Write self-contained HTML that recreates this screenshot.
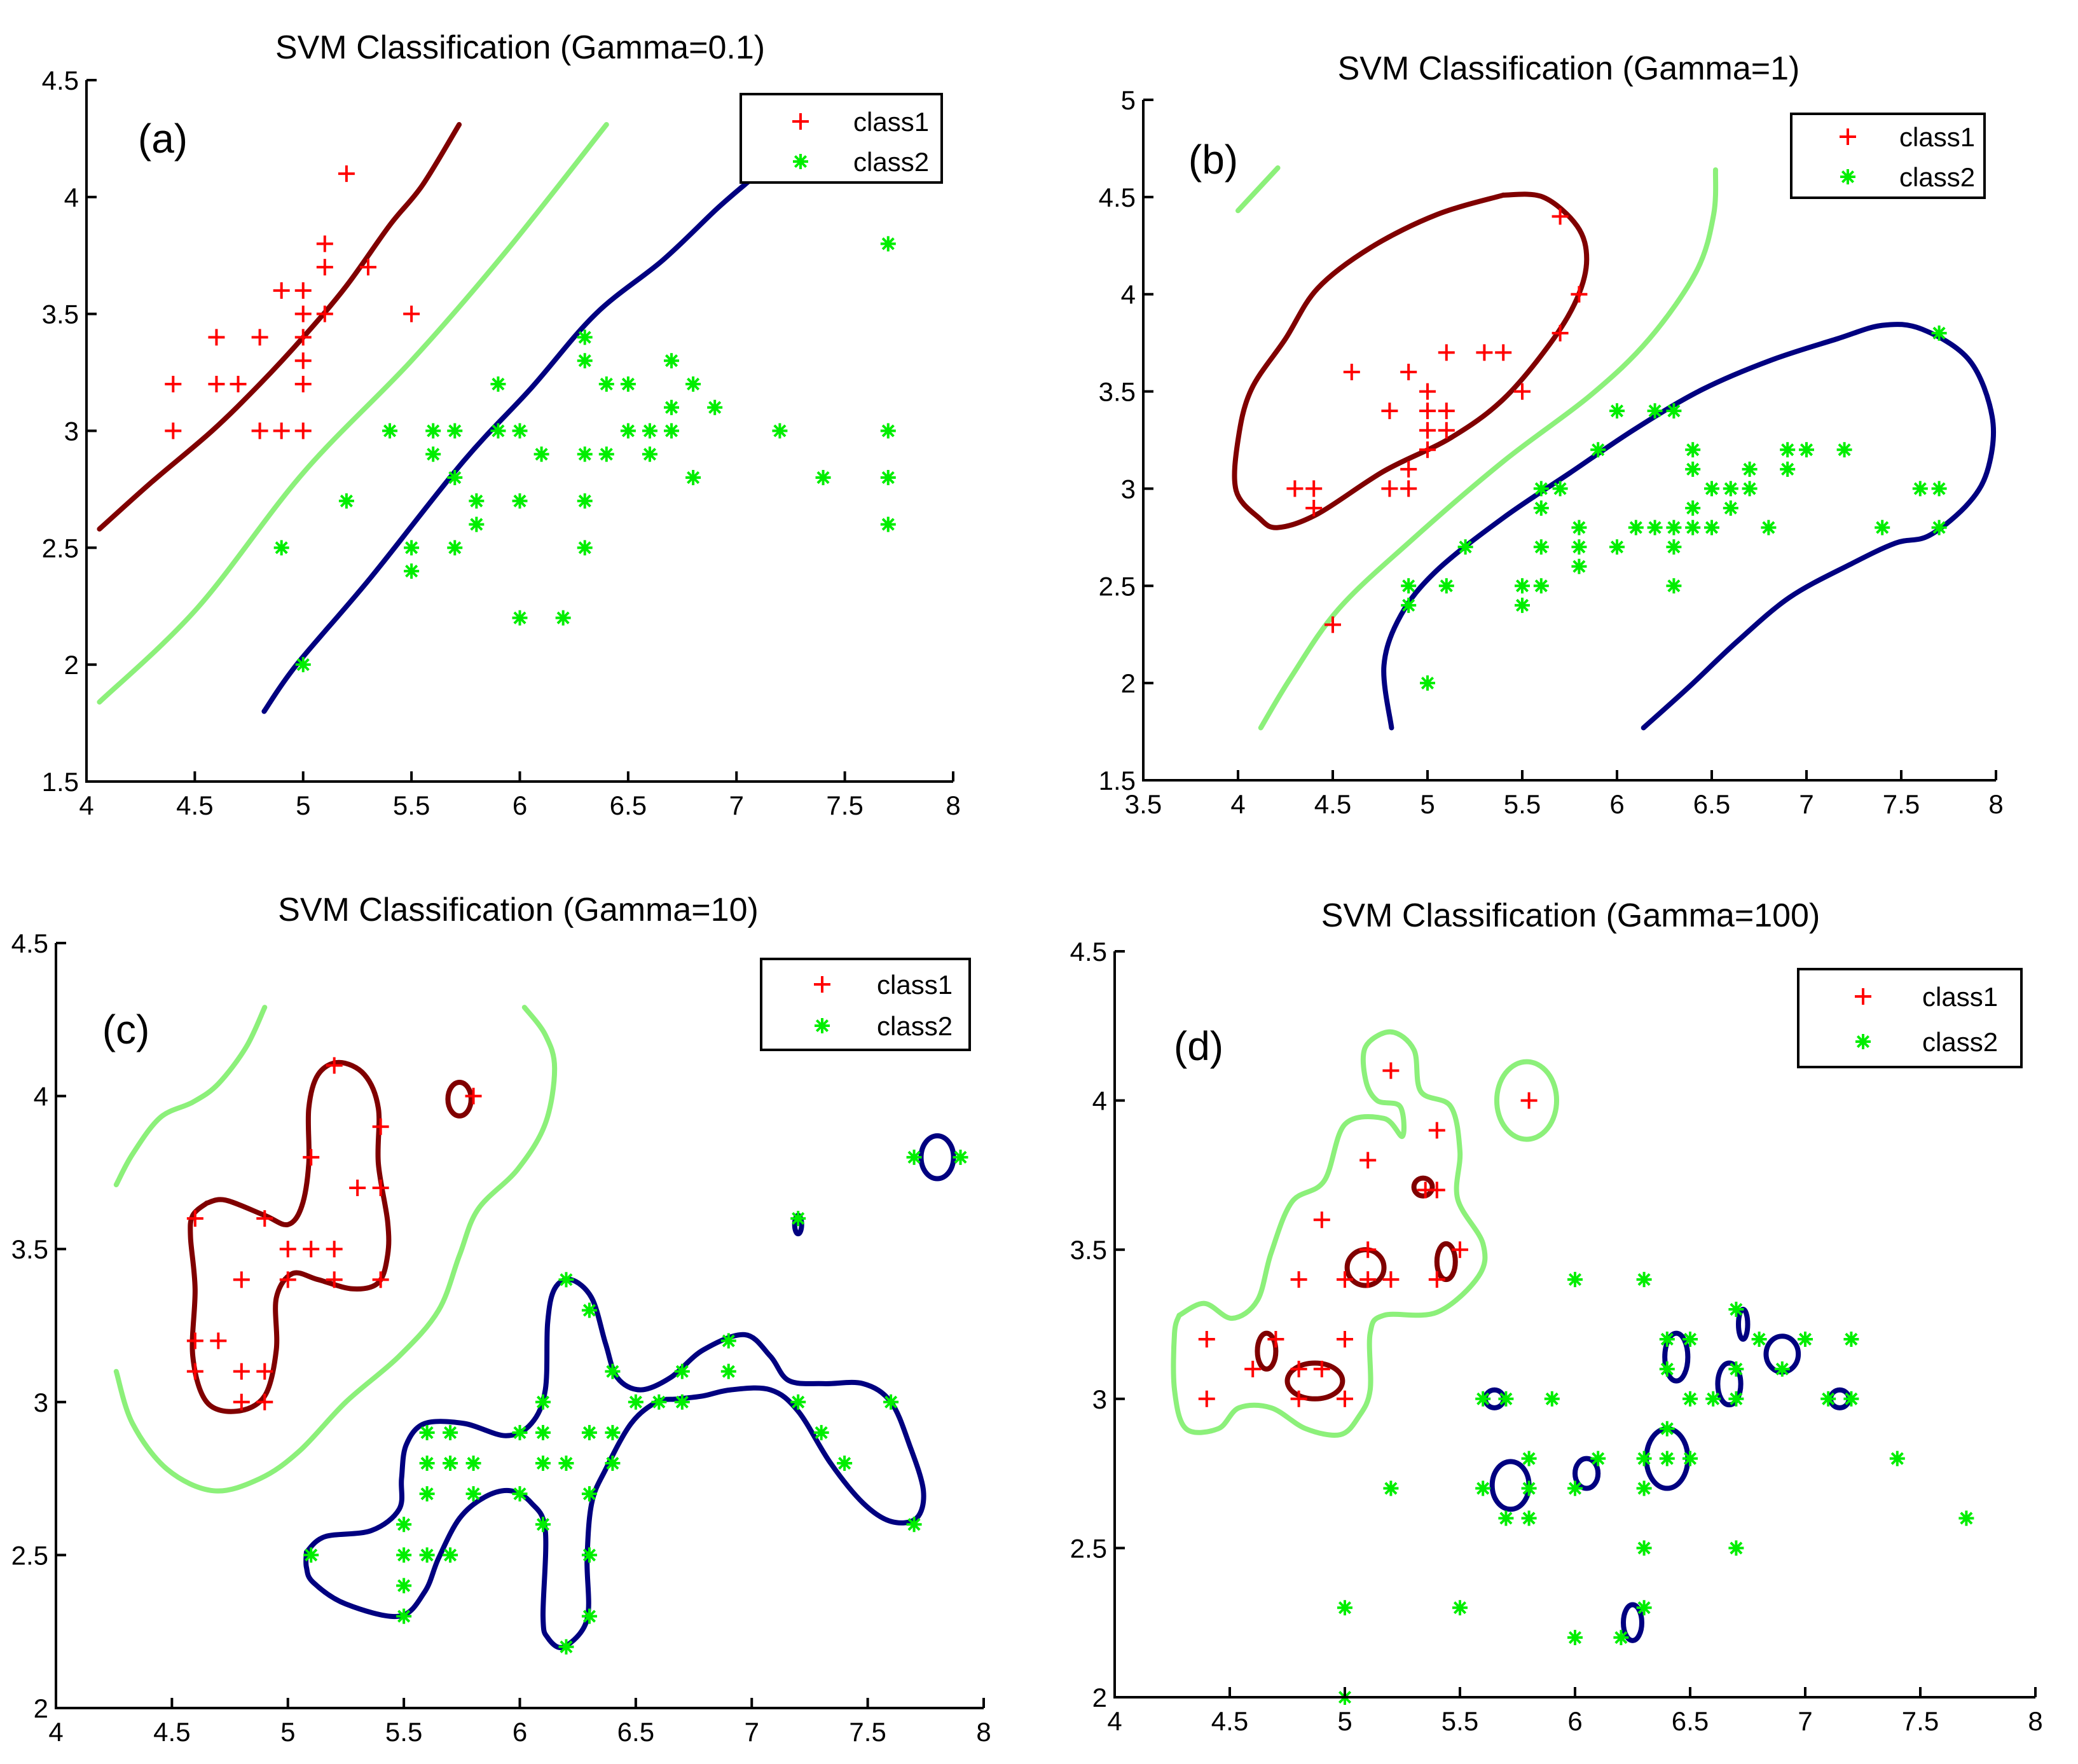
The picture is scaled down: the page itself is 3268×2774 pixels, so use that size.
<!DOCTYPE html>
<html><head><meta charset="utf-8"><style>
html,body{margin:0;padding:0;background:#fff}
svg{display:block}
text{font-family:"Liberation Sans",Arial,sans-serif}
</style></head><body>
<svg id="fig" xmlns="http://www.w3.org/2000/svg" width="3268" height="2774" viewBox="0 0 3268 2774"></svg>
<script>
// ---------- data ----------
const aClass1 = [[4.4,3.2],[4.4,3.0],[4.6,3.4],[4.6,3.2],[4.7,3.2],[4.8,3.4],[4.8,3.0],[4.9,3.6],[4.9,3.0],[5.0,3.6],[5.0,3.5],[5.0,3.4],[5.0,3.3],[5.0,3.2],[5.0,3.0],[5.1,3.8],[5.1,3.7],[5.1,3.5],[5.2,4.1],[5.3,3.7],[5.5,3.5]];
const aClass2 = [[4.9,2.5],[5.0,2.0],[5.2,2.7],[5.4,3.0],[5.5,2.5],[5.5,2.4],[5.6,3.0],[5.6,2.9],[5.7,3.0],[5.7,2.8],[5.7,2.5],[5.8,2.7],[5.8,2.6],[5.9,3.2],[5.9,3.0],[6.0,3.0],[6.0,2.7],[6.0,2.2],[6.1,2.9],[6.2,2.2],[6.3,3.4],[6.3,3.3],[6.3,2.9],[6.3,2.7],[6.3,2.5],[6.4,3.2],[6.4,2.9],[6.5,3.2],[6.5,3.0],[6.6,3.0],[6.6,2.9],[6.7,3.3],[6.7,3.1],[6.7,3.0],[6.8,3.2],[6.8,2.8],[6.9,3.1],[7.2,3.0],[7.4,2.8],[7.7,3.8],[7.7,3.0],[7.7,2.8],[7.7,2.6]];
const bClass1 = [[5.7,4.4],[5.8,4.0],[5.7,3.8],[5.1,3.7],[5.3,3.7],[5.4,3.7],[4.6,3.6],[4.9,3.6],[5.0,3.5],[5.5,3.5],[4.8,3.4],[5.0,3.4],[5.1,3.4],[5.0,3.3],[5.1,3.3],[5.0,3.2],[4.9,3.1],[4.3,3.0],[4.4,3.0],[4.8,3.0],[4.9,3.0],[4.4,2.9],[4.5,2.3]];
const bClass2 = [[7.7,3.8],[6.0,3.4],[6.2,3.4],[6.3,3.4],[5.9,3.2],[6.4,3.2],[6.9,3.2],[7.0,3.2],[7.2,3.2],[6.4,3.1],[6.7,3.1],[6.9,3.1],[5.6,3.0],[5.7,3.0],[6.5,3.0],[6.6,3.0],[6.7,3.0],[7.6,3.0],[7.7,3.0],[5.6,2.9],[6.4,2.9],[6.6,2.9],[5.8,2.8],[6.1,2.8],[6.2,2.8],[6.3,2.8],[6.4,2.8],[6.5,2.8],[6.8,2.8],[7.4,2.8],[7.7,2.8],[5.2,2.7],[5.6,2.7],[5.8,2.7],[6.0,2.7],[6.3,2.7],[5.8,2.6],[4.9,2.5],[5.1,2.5],[5.5,2.5],[5.6,2.5],[6.3,2.5],[4.9,2.4],[5.5,2.4],[5.0,2.0]];
const cClass1 = [[5.2,4.1],[5.8,4.0],[5.4,3.9],[5.1,3.8],[5.3,3.7],[5.4,3.7],[4.6,3.6],[4.9,3.6],[5.0,3.5],[5.1,3.5],[5.2,3.5],[4.8,3.4],[5.0,3.4],[5.2,3.4],[5.4,3.4],[4.6,3.2],[4.7,3.2],[4.6,3.1],[4.8,3.1],[4.9,3.1],[4.8,3.0],[4.9,3.0]];
const cClass2 = [[7.7,3.8],[7.9,3.8],[7.2,3.6],[6.2,3.4],[6.3,3.3],[6.9,3.2],[6.4,3.1],[6.7,3.1],[6.9,3.1],[6.1,3.0],[6.5,3.0],[6.6,3.0],[6.7,3.0],[7.2,3.0],[7.6,3.0],[5.6,2.9],[5.7,2.9],[6.0,2.9],[6.1,2.9],[6.3,2.9],[6.4,2.9],[7.3,2.9],[5.6,2.8],[5.7,2.8],[5.8,2.8],[6.1,2.8],[6.2,2.8],[6.4,2.8],[7.4,2.8],[5.6,2.7],[5.8,2.7],[6.0,2.7],[6.3,2.7],[5.5,2.6],[6.1,2.6],[7.7,2.6],[5.1,2.5],[5.5,2.5],[5.6,2.5],[5.7,2.5],[6.3,2.5],[5.5,2.4],[5.5,2.3],[6.3,2.3],[6.2,2.2]];
const dClass1 = [[5.2,4.1],[5.8,4.0],[5.4,3.9],[5.1,3.8],[5.35,3.7],[5.4,3.7],[4.9,3.6],[5.1,3.5],[5.5,3.5],[4.8,3.4],[5.0,3.4],[5.1,3.4],[5.2,3.4],[5.4,3.4],[4.4,3.2],[4.7,3.2],[5.0,3.2],[4.6,3.1],[4.8,3.1],[4.9,3.1],[4.4,3.0],[4.8,3.0],[5.0,3.0]];
const dClass2 = [[6.0,3.4],[6.3,3.4],[6.7,3.3],[6.4,3.2],[6.5,3.2],[6.8,3.2],[7.0,3.2],[7.2,3.2],[6.4,3.1],[6.7,3.1],[6.9,3.1],[5.6,3.0],[5.7,3.0],[5.9,3.0],[6.5,3.0],[6.6,3.0],[6.7,3.0],[7.1,3.0],[7.2,3.0],[6.4,2.9],[5.8,2.8],[6.1,2.8],[6.3,2.8],[6.4,2.8],[6.5,2.8],[7.4,2.8],[5.2,2.7],[5.6,2.7],[5.8,2.7],[6.0,2.7],[6.3,2.7],[5.7,2.6],[5.8,2.6],[7.7,2.6],[6.3,2.5],[6.7,2.5],[5.0,2.3],[5.5,2.3],[6.3,2.3],[6.0,2.2],[6.2,2.2],[5.0,2.0]];

const xTicksA = [4,4.5,5,5.5,6,6.5,7,7.5,8];
const yTicksA = [1.5,2,2.5,3,3.5,4,4.5];
const xTicksB = [3.5,4,4.5,5,5.5,6,6.5,7,7.5,8];
const yTicksB = [1.5,2,2.5,3,3.5,4,4.5,5];
const yTicksCD = [2,2.5,3,3.5,4,4.5];

// decision-boundary contours (data coords)
const aPos = [[4.06,2.58],[4.3,2.78],[4.58,3.0],[4.8,3.2],[5.0,3.4],[5.2,3.62],[5.4,3.88],[5.55,4.05],[5.72,4.31]];
const aZero = [[4.06,1.84],[4.51,2.24],[5.0,2.82],[5.5,3.3],[5.93,3.76],[6.4,4.31]];
const aNeg = [[4.82,1.8],[4.97,2.0],[5.31,2.37],[5.74,2.87],[6.05,3.18],[6.35,3.5],[6.66,3.73],[6.91,3.95],[7.06,4.07]];
const bPos = [[5.4,4.51],[5.61,4.5],[5.79,4.35],[5.84,4.18],[5.79,3.98],[5.65,3.75],[5.4,3.46],[5.12,3.26],[4.77,3.09],[4.42,2.87],[4.21,2.8],[4.11,2.85],[3.99,2.99],[4.0,3.25],[4.07,3.51],[4.25,3.77],[4.42,4.03],[4.7,4.24],[5.05,4.41],[5.4,4.51]];
const bZero1 = [[4.0,4.43],[4.21,4.65]];
const bZero2 = [[4.12,1.77],[4.28,2.03],[4.53,2.38],[4.91,2.73],[5.4,3.14],[5.86,3.48],[6.17,3.77],[6.42,4.12],[6.51,4.41],[6.52,4.64]];
const bNeg = [[4.81,1.77],[4.77,2.09],[4.86,2.35],[5.05,2.58],[5.4,2.85],[5.75,3.08],[6.1,3.31],[6.45,3.51],[6.81,3.66],[7.16,3.77],[7.4,3.84],[7.61,3.82],[7.86,3.66],[7.98,3.37],[7.96,3.11],[7.86,2.93],[7.65,2.76],[7.47,2.72],[7.23,2.61],[6.91,2.44],[6.63,2.21],[6.38,1.98],[6.14,1.77]];
const cZero1 = [[4.26,3.71],[4.33,3.81],[4.45,3.93],[4.59,3.98],[4.7,4.04],[4.82,4.16],[4.9,4.29]];
const cZero2 = [[4.26,3.1],[4.33,2.93],[4.48,2.78],[4.68,2.71],[4.88,2.75],[5.05,2.84],[5.25,3.0],[5.48,3.15],[5.65,3.3],[5.74,3.48],[5.82,3.63],[5.99,3.76],[6.11,3.91],[6.15,4.09],[6.11,4.2],[6.02,4.29]];
const cPos = [[4.65,3.65],[4.73,3.66],[4.9,3.61],[5.0,3.58],[5.06,3.64],[5.09,3.78],[5.09,3.96],[5.13,4.07],[5.22,4.11],[5.33,4.07],[5.39,3.96],[5.39,3.78],[5.43,3.59],[5.43,3.48],[5.39,3.39],[5.28,3.37],[5.13,3.4],[5.02,3.42],[4.95,3.34],[4.95,3.17],[4.9,3.02],[4.78,2.97],[4.65,3.0],[4.59,3.15],[4.6,3.37],[4.58,3.54],[4.59,3.61],[4.65,3.65]];
const cNeg = [[5.08,2.51],[5.16,2.56],[5.36,2.58],[5.48,2.65],[5.49,2.75],[5.51,2.86],[5.59,2.93],[5.76,2.93],[5.94,2.89],[6.05,2.93],[6.11,3.04],[6.12,3.26],[6.15,3.37],[6.22,3.4],[6.31,3.34],[6.37,3.19],[6.42,3.08],[6.52,3.04],[6.65,3.08],[6.79,3.17],[6.97,3.22],[7.08,3.15],[7.16,3.07],[7.31,3.06],[7.48,3.06],[7.6,3.0],[7.68,2.86],[7.74,2.71],[7.71,2.62],[7.6,2.61],[7.48,2.67],[7.34,2.8],[7.2,2.97],[7.08,3.04],[6.91,3.04],[6.79,3.02],[6.68,3.01],[6.59,3.0],[6.48,2.93],[6.37,2.78],[6.31,2.67],[6.29,2.49],[6.29,2.29],[6.19,2.2],[6.12,2.23],[6.1,2.3],[6.11,2.58],[6.05,2.67],[5.96,2.71],[5.85,2.69],[5.74,2.62],[5.65,2.49],[5.59,2.38],[5.48,2.3],[5.25,2.34],[5.11,2.41],[5.08,2.46],[5.08,2.51]];
const cPosLoops = [[5.74,3.99,0.05,0.055]];
const cNegLoops = [[7.8,3.8,0.07,0.07],[7.2,3.58,0.015,0.03]];
const dZero = [[4.28,3.28],[4.39,3.32],[4.51,3.27],[4.62,3.33],[4.68,3.49],[4.77,3.66],[4.91,3.73],[5.0,3.92],[5.17,3.94],[5.25,3.88],[5.24,3.98],[5.14,4.0],[5.09,4.07],[5.09,4.18],[5.2,4.23],[5.3,4.17],[5.33,4.03],[5.46,3.98],[5.5,3.83],[5.49,3.67],[5.6,3.52],[5.58,3.41],[5.4,3.29],[5.17,3.28],[5.11,3.22],[5.11,3.03],[5.06,2.94],[4.98,2.88],[4.83,2.9],[4.68,2.97],[4.54,2.97],[4.45,2.9],[4.31,2.9],[4.26,3.03],[4.26,3.22],[4.28,3.28]];
const dZeroLoops = [[5.79,4.0,0.13,0.13]];
const dPosLoops = [[5.09,3.44,0.08,0.06],[5.34,3.71,0.04,0.03],[5.44,3.46,0.04,0.06],[4.66,3.16,0.04,0.06],[4.87,3.06,0.12,0.06]];
const dNegLoops = [[5.65,3.0,0.04,0.03],[5.72,2.71,0.08,0.08],[6.05,2.75,0.05,0.05],[6.4,2.8,0.09,0.1],[6.44,3.14,0.05,0.08],[6.67,3.05,0.05,0.07],[6.9,3.15,0.07,0.06],[6.73,3.25,0.02,0.05],[7.15,3.0,0.04,0.03],[6.25,2.25,0.04,0.06]];

// ---------- drawing ----------
const NS = "http://www.w3.org/2000/svg";
const svg = document.getElementById('fig');
function el(tag, attrs, parent){const e=document.createElementNS(NS,tag);for(const k in attrs)e.setAttribute(k,attrs[k]);(parent||svg).appendChild(e);return e;}

function smoothPath(P){
  if(P.length<3) return P.map((q,j)=>(j?'L':'M')+q[0].toFixed(1)+' '+q[1].toFixed(1)).join('');
  let d='M'+P[0][0].toFixed(1)+' '+P[0][1].toFixed(1);
  for(let i=0;i<P.length-1;i++){
    const p0=P[i-1]||P[i], p1=P[i], p2=P[i+1], p3=P[i+2]||P[i+1];
    const c1=[p1[0]+(p2[0]-p0[0])/6, p1[1]+(p2[1]-p0[1])/6];
    const c2=[p2[0]-(p3[0]-p1[0])/6, p2[1]-(p3[1]-p1[1])/6];
    d+=`C${c1[0].toFixed(1)} ${c1[1].toFixed(1)} ${c2[0].toFixed(1)} ${c2[1].toFixed(1)} ${p2[0].toFixed(1)} ${p2[1].toFixed(1)}`;
  }
  return d;
}

const panels = [
 {id:'a',title:'SVM Classification (Gamma=0.1)',tx:818,ty:92,lab:'(a)',lx:256,ly:240,x0:4,x1:8,y0:1.5,y1:4.5,px0:136,px1:1499,py0:1229,py1:126,xt:xTicksA,yt:yTicksA,c1:aClass1,c2:aClass2,
  lines:[[aPos,'#800000'],[aZero,'#8cf07a'],[aNeg,'#000080']],loops:[],leg:[1165,148,1481,287,1259,1342,191,254]},
 {id:'b',title:'SVM Classification (Gamma=1)',tx:2467,ty:125,lab:'(b)',lx:1908,ly:273,x0:3.5,x1:8,y0:1.5,y1:5,px0:1798,px1:3139,py0:1227,py1:157,xt:xTicksB,yt:yTicksB,c1:bClass1,c2:bClass2,
  lines:[[bPos,'#800000'],[bZero1,'#8cf07a'],[bZero2,'#8cf07a'],[bNeg,'#000080']],loops:[],leg:[2817,179,3121,311,2906,2987,215,278]},
 {id:'c',title:'SVM Classification (Gamma=10)',tx:815,ty:1448,lab:'(c)',lx:198,ly:1641,x0:4,x1:8,y0:2,y1:4.5,px0:88,px1:1547,py0:2686,py1:1483,xt:xTicksA,yt:yTicksCD,c1:cClass1,c2:cClass2,
  lines:[[cZero1,'#8cf07a'],[cZero2,'#8cf07a'],[cPos,'#800000'],[cNeg,'#000080']],loops:[[cPosLoops,'#800000'],[cNegLoops,'#000080']],leg:[1197,1508,1525,1651,1293,1379,1548,1613]},
 {id:'d',title:'SVM Classification (Gamma=100)',tx:2470,ty:1457,lab:'(d)',lx:1885,ly:1667,x0:4,x1:8,y0:2,y1:4.5,px0:1753,px1:3201,py0:2669,py1:1496,xt:xTicksA,yt:yTicksCD,c1:dClass1,c2:dClass2,
  lines:[[dZero,'#8cf07a']],loops:[[dZeroLoops,'#8cf07a'],[dPosLoops,'#800000'],[dNegLoops,'#000080']],leg:[2828,1524,3179,1678,2930,3023,1567,1638]}
];

function plus(g,x,y,s,c){el('path',{d:`M${x-s} ${y}H${x+s}M${x} ${y-s}V${y+s}`,stroke:c,'stroke-width':4,fill:'none'},g);}
function star(g,x,y,s,c){const d=s*0.72;el('path',{d:`M${x-s} ${y}H${x+s}M${x} ${y-s}V${y+s}M${x-d} ${y-d}L${x+d} ${y+d}M${x-d} ${y+d}L${x+d} ${y-d}`,stroke:c,'stroke-width':4,fill:'none'},g);}

panels.forEach(p=>{
  const g = el('g',{});
  
  
  const X = v => p.px0 + (v-p.x0)/(p.x1-p.x0)*(p.px1-p.px0);
  const Y = v => p.py0 + (v-p.y0)/(p.y1-p.y0)*(p.py1-p.py0);
  const t = el('text',{x:p.tx,y:p.ty,'font-size':52,'text-anchor':'middle',fill:'#000'},g);
  t.textContent=p.title;
  
  
  const lb = el('text',{x:p.lx,y:p.ly,'font-size':64,'text-anchor':'middle',fill:'#000'},g);
  lb.textContent=p.lab;
  
  
  p.lines.forEach(([pts,col],i)=>{
    const d = smoothPath(pts.map(q=>[X(q[0]),Y(q[1])]));
    const path = el('path',{d:d,stroke:col,'stroke-width':8,fill:'none','stroke-linejoin':'round','stroke-linecap':'round'},g);
    
    
  });
  p.loops.forEach(([arr,col],i)=>{
    arr.forEach((q,j)=>{
      const e = el('ellipse',{cx:X(q[0]),cy:Y(q[1]),rx:Math.abs(X(q[0]+q[2])-X(q[0])),ry:Math.abs(Y(q[1]+q[3])-Y(q[1])),stroke:col,'stroke-width':8,fill:'none'},g);
      
      
    });
  });
  p.c1.forEach(q=>{plus(g,X(q[0]),Y(q[1]),13,'#ff0000');});
  p.c2.forEach(q=>{star(g,X(q[0]),Y(q[1]),12,'#00ee00');});
  const ax = el('path',{d:`M${p.px0} ${p.py1}V${p.py0}H${p.px1}`,stroke:'#000','stroke-width':4,fill:'none'},g);
  
  
  p.xt.forEach(v=>{
    el('path',{d:`M${X(v)} ${p.py0}V${p.py0-16}`,stroke:'#000','stroke-width':4},g);
    const tt=el('text',{x:X(v),y:p.py0+52,'font-size':42,'text-anchor':'middle',fill:'#000'},g);
    tt.textContent=String(v);
    
    
  });
  p.yt.forEach(v=>{
    el('path',{d:`M${p.px0} ${Y(v)}H${p.px0+16}`,stroke:'#000','stroke-width':4},g);
    const tt=el('text',{x:p.px0-12,y:Y(v)+15,'font-size':42,'text-anchor':'end',fill:'#000'},g);
    tt.textContent=String(v);
    
    
  });
  const L=p.leg;
  const lg = el('g',{},g);
  
  
  el('rect',{x:L[0],y:L[1],width:L[2]-L[0],height:L[3]-L[1],fill:'#fff',stroke:'#000','stroke-width':4},lg);
  plus(lg,L[4],L[6],13,'#ff0000');
  star(lg,L[4],L[7],12,'#00ee00');
  const t1=el('text',{x:L[5],y:L[6]+15,'font-size':42,fill:'#000'},lg); t1.textContent='class1';
  
  
  const t2=el('text',{x:L[5],y:L[7]+15,'font-size':42,fill:'#000'},lg); t2.textContent='class2';
  
  
});
</script>
</body></html>
